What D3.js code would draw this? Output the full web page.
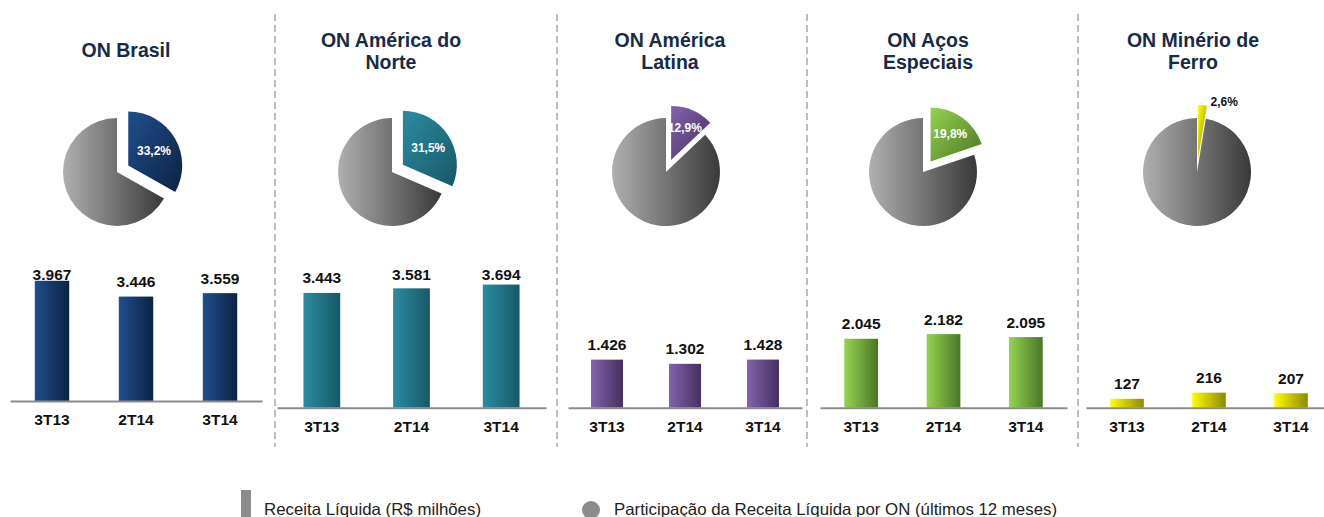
<!DOCTYPE html>
<html>
<head>
<meta charset="utf-8">
<script src="https://cdn.jsdelivr.net/npm/d3@7"></script>
<style>
  body { margin: 0; background: #fff; }
  svg { display: block; font-family: Arial, "Liberation Sans", sans-serif; }
</style>
</head>
<body>
<div id="chart"></div>
<script>
"use strict";

// data
var panelTitles = [
	["ON Brasil"],
	["ON América do", "Norte"],
	["ON América", "Latina"],
	["ON Aços", "Especiais"],
	["ON Minério de", "Ferro"]
];
var quarters = ["3T13", "2T14", "3T14"];
var receitaBrasil = [3967, 3446, 3559];
var receitaAmNorte = [3443, 3581, 3694];
var receitaAmLatina = [1426, 1302, 1428];
var receitaAcosEsp = [2045, 2182, 2095];
var receitaMinerio = [127, 216, 207];
var participacao = [33.2, 31.5, 12.9, 19.8, 2.6];
// every panel on the slide has its own bar scale
var axisMax = [4950, 4500, 4450, 4450, 2150];
var legendLabels = ["Receita Líquida (R$ milhões)", "Participação da Receita Líquida por ON (últimos 12 meses)"];

var receita = [receitaBrasil, receitaAmNorte, receitaAmLatina, receitaAcosEsp, receitaMinerio];

// layout + colours for each panel
var panels = [
	{range: [10, 262], base: 401, pieX: 117, titleX: 126, c1: "#1f4f8e", c2: "#0c2243"},
	{range: [277, 546], base: 407.7, pieX: 392, titleX: 391, c1: "#2b8ca2", c2: "#175866"},
	{range: [568, 802], base: 407.7, pieX: 666, titleX: 670, c1: "#8363ac", c2: "#45305f"},
	{range: [820, 1067], base: 407.7, pieX: 923, titleX: 928, c1: "#95d450", c2: "#4a7625"},
	{range: [1086, 1332], base: 407.7, pieX: 1197, titleX: 1193, c1: "#ffff00", c2: "#8a8a00"}
];
var dividers = [275, 557, 807, 1078];

var width = 1324, height = 517;
var pieY = 172, pieR = 54, explode = 13;
var plotH = 150;

var locale = d3.formatLocale({decimal: ",", thousands: ".", grouping: [3], currency: ["R$", ""]});
var fmtValue = locale.format(",d");
var fmtPct = locale.format(".1f");

var svg = d3.select("#chart").append("svg")
	.attr("width", width)
	.attr("height", height);

var defs = svg.append("defs");

function addGradient(id, from, to, diagonal) {
	var g = defs.append("linearGradient")
		.attr("id", id)
		.attr("x1", 0).attr("y1", 0)
		.attr("x2", 1).attr("y2", diagonal ? 1 : 0);
	g.append("stop").attr("offset", "0%").attr("stop-color", from);
	g.append("stop").attr("offset", "100%").attr("stop-color", to);
}

addGradient("grayPie", "#b0b0b0", "#393939", false);
panels.forEach(function(p, i) {
	addGradient("bar" + i, p.c1, p.c2, false);
	addGradient("slice" + i, p.c1, p.c2, true);
});

// dashed separators between the panels
svg.selectAll(".divider")
	.data(dividers)
	.enter().append("line")
	.attr("class", "divider")
	.attr("x1", function(d) { return d; })
	.attr("x2", function(d) { return d; })
	.attr("y1", 14)
	.attr("y2", 447)
	.attr("stroke", "#a8a8a8")
	.attr("stroke-width", 1.5)
	.attr("stroke-dasharray", "7,4");

var pie = d3.pie().sort(null).value(function(d) { return d; });
var arc = d3.arc().innerRadius(0).outerRadius(pieR);

panels.forEach(function(p, i) {
	var g = svg.append("g").attr("class", "panel");

	// title, one or two lines
	var title = g.append("text")
		.attr("x", p.titleX)
		.attr("y", panelTitles[i].length == 1 ? 57 : 47)
		.attr("text-anchor", "middle")
		.style("font-size", "19.5px")
		.style("font-weight", "bold")
		.style("fill", "#172b47");
	title.selectAll("tspan")
		.data(panelTitles[i])
		.enter().append("tspan")
		.attr("x", p.titleX)
		.attr("dy", function(d, k) { return k == 0 ? 0 : 22; })
		.text(function(d) { return d; });

	// pie: share of the ON vs everything else
	var share = participacao[i];
	var slices = pie([share, 100 - share]);
	var pg = g.append("g").attr("transform", "translate(" + p.pieX + "," + pieY + ")");

	var s = slices[0];
	var mid = (s.startAngle + s.endAngle) / 2;
	var ox = Math.sin(mid) * explode, oy = -Math.cos(mid) * explode;

	pg.append("path")
		.attr("d", arc(slices[1]))
		.style("fill", "url(#grayPie)");

	pg.append("path")
		.attr("d", arc(s))
		.attr("transform", "translate(" + ox + "," + oy + ")")
		.style("fill", "url(#slice" + i + ")");

	var pctText = fmtPct(share) + "%";
	if (share < 5) {
		// too thin, label goes outside
		var ex = Math.sin(mid) * (pieR + explode), ey = -Math.cos(mid) * (pieR + explode);
		pg.append("text")
			.attr("x", ex + 8)
			.attr("y", ey + 1)
			.style("font-size", "12px")
			.style("font-weight", "bold")
			.style("fill", "#111")
			.text(pctText);
	} else {
		// centroid of the sector
		var half = (s.endAngle - s.startAngle) / 2;
		var dist = 2 * pieR * Math.sin(half) / (3 * half) + explode;
		pg.append("text")
			.attr("x", Math.sin(mid) * dist)
			.attr("y", -Math.cos(mid) * dist)
			.attr("dy", "0.35em")
			.attr("text-anchor", "middle")
			.style("font-size", "12px")
			.style("font-weight", "bold")
			.style("fill", "#fff")
			.text(pctText);
	}

	// bars
	var x = d3.scaleBand().domain(quarters).range(p.range).paddingInner(0.59).paddingOuter(0.295);
	var y = d3.scaleLinear().domain([0, axisMax[i]]).range([p.base, p.base - plotH]);

	var rows = quarters.map(function(q, k) { return {q: q, v: receita[i][k]}; });

	g.selectAll(".bar")
		.data(rows)
		.enter().append("rect")
		.attr("class", "bar")
		.attr("x", function(d) { return x(d.q); })
		.attr("width", x.bandwidth())
		.attr("y", function(d) { return y(d.v); })
		.attr("height", function(d) { return p.base - y(d.v); })
		.style("fill", "url(#bar" + i + ")");

	g.selectAll(".val")
		.data(rows)
		.enter().append("text")
		.attr("class", "val")
		.attr("x", function(d) { return x(d.q) + x.bandwidth() / 2; })
		.attr("y", function(d) { return Math.max(y(d.v) - 9.5, 279.5); })
		.attr("text-anchor", "middle")
		.style("font-size", "15.5px")
		.style("font-weight", "bold")
		.style("fill", "#111")
		.text(function(d) { return fmtValue(d.v); });

	// baseline + quarter labels
	var axis = g.append("g")
		.attr("transform", "translate(0," + p.base + ")")
		.call(d3.axisBottom(x).tickSize(0).tickPadding(13));
	axis.select(".domain")
		.attr("stroke", "#8c8c8c")
		.attr("stroke-width", 2);
	axis.selectAll("text")
		.style("font-size", "15.5px")
		.style("font-weight", "bold")
		.style("font-family", "Arial, 'Liberation Sans', sans-serif")
		.style("fill", "#111");
});

// legend at the bottom
var legend = svg.append("g").attr("class", "legend");
legend.append("rect")
	.attr("x", 241).attr("y", 490)
	.attr("width", 10).attr("height", 30)
	.style("fill", "#8c8c8c");
legend.append("text")
	.attr("x", 264).attr("y", 515)
	.attr("textLength", 217)
	.attr("lengthAdjust", "spacingAndGlyphs")
	.style("font-size", "16.5px")
	.style("fill", "#222")
	.text(legendLabels[0]);
legend.append("circle")
	.attr("cx", 591).attr("cy", 510).attr("r", 9)
	.style("fill", "#8c8c8c");
legend.append("text")
	.attr("x", 614).attr("y", 515)
	.attr("textLength", 443)
	.attr("lengthAdjust", "spacingAndGlyphs")
	.style("font-size", "16.5px")
	.style("fill", "#222")
	.text(legendLabels[1]);
</script>
</body>
</html>
